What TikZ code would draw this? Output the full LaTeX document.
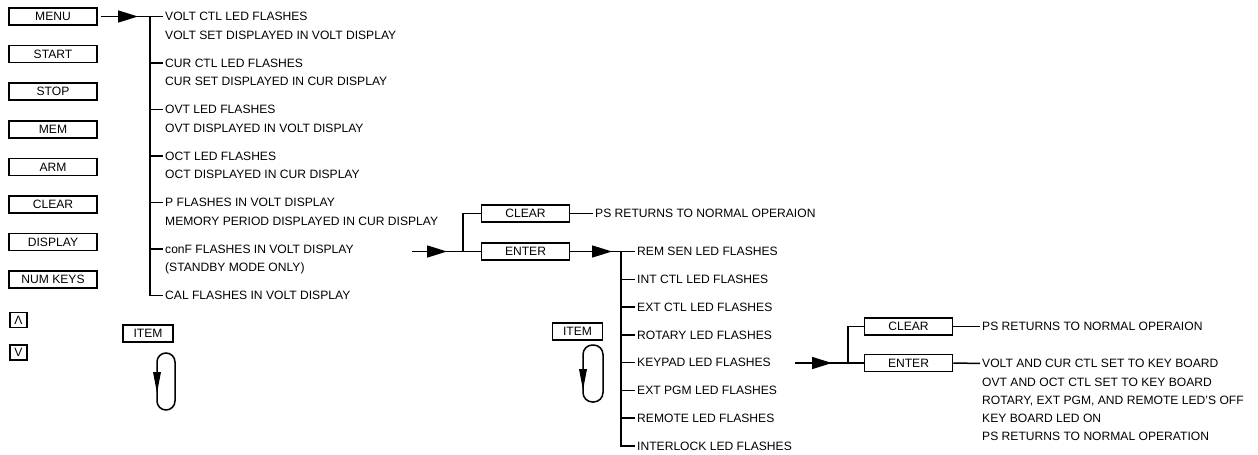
\documentclass[tikz,border=0pt]{standalone}
\usepackage{fontspec}
\setmainfont{Liberation Sans}
\usetikzlibrary{arrows.meta,decorations.markings}
\begin{document}
\begin{tikzpicture}[x=1pt,y=-1pt,
  every node/.style={font=\fontsize{12.1}{14}\selectfont},
  conn/.style={line width=1.5pt},
  key/.style={draw,line width=1.5pt,minimum width=88pt,minimum height=17pt,inner sep=0pt},
  ikey/.style={draw,line width=1.5pt,minimum width=50pt,minimum height=17pt,inner sep=0pt},
  skey/.style={draw,line width=1.5pt,minimum width=17pt,minimum height=15pt,inner sep=0pt},
  txt/.style={anchor=west,inner sep=0pt,text height=8.7pt,text depth=0pt},
  midarrow/.style={postaction={decorate},decoration={markings,mark=at position #1 with {\arrow{Triangle[length=20pt,width=12pt]}}}}
]
\useasboundingbox (0,0) rectangle (1258,455);

% left column of keys
\node[key] (kmenu) at (53,16.5) {MENU};
\node[key] (kstart) at (53,54.1) {START};
\node[key] (kstop) at (53,91.7) {STOP};
\node[key] (kmem) at (53,129.3) {MEM};
\node[key] (karm) at (53,166.9) {ARM};
\node[key] (kclear) at (53,204.5) {CLEAR};
\node[key] (kdisp) at (53,242.1) {DISPLAY};
\node[key] (knum) at (53,279.7) {NUM KEYS};
\node[skey] (kup) at (18.5,320) {Λ};
\node[skey] (kdown) at (18.5,352.5) {V};

% menu items
\node[txt] (m1) at (165,16.5) {VOLT CTL LED FLASHES};
\node[txt] (m1b) at (165,35) {VOLT SET DISPLAYED IN VOLT DISPLAY};
\node[txt] (m2) at (165,63) {CUR CTL LED FLASHES};
\node[txt] (m2b) at (165,81.5) {CUR SET DISPLAYED IN CUR DISPLAY};
\node[txt] (m3) at (165,109.5) {OVT LED FLASHES};
\node[txt] (m3b) at (165,128) {OVT DISPLAYED IN VOLT DISPLAY};
\node[txt] (m4) at (165,156) {OCT LED FLASHES};
\node[txt] (m4b) at (165,174.5) {OCT DISPLAYED IN CUR DISPLAY};
\node[txt] (m5) at (165,202.5) {P FLASHES IN VOLT DISPLAY};
\node[txt] (m5b) at (165,221) {MEMORY PERIOD DISPLAYED IN CUR DISPLAY};
\node[txt] (m6) at (165,249) {conF FLASHES IN VOLT DISPLAY};
\node[txt] (m6b) at (165,267.5) {(STANDBY MODE ONLY)};
\node[txt] (m7) at (165,295.5) {CAL FLASHES IN VOLT DISPLAY};

\coordinate (j0) at (150,16.5);
\draw[conn,midarrow=-12pt,shorten <=3pt] (kmenu.east) -- (j0);
\draw[conn] (j0) |- ([xshift=-2pt]m7.west);
\foreach \m in {m1,m2,m3,m4,m5,m6}
  \draw[conn] (\m.west -| j0) -- ([xshift=-2pt]\m.west);

% ITEM loop 1
\node[ikey] (item1) at (148,333.5) {ITEM};
\draw[conn,rounded corners=9pt] (157,353) rectangle (175,410);
\fill (157,393) -- (153,372) -- (161,372) -- cycle;

% conF submenu
\coordinate (a1s) at (412,251.5);
\coordinate (j1) at (463,251.5);
\node[key] (clr1) at (525.5,213.5) {CLEAR};
\node[key] (ent1) at (525.5,251.5) {ENTER};
\node[txt] (ps1) at (595,213.5) {PS RETURNS TO NORMAL OPERAION};
\draw[conn,midarrow=-16pt] (a1s) -- (j1);
\draw[conn] (j1) -- (ent1.west);
\draw[conn] (j1) |- (clr1.west);
\draw[conn,shorten >=2pt] (clr1.east) -- (ps1.west);

% ENTER items
\node[txt] (e1) at (637,251.5) {REM SEN LED FLASHES};
\node[txt] (e2) at (637,279.25) {INT CTL LED FLASHES};
\node[txt] (e3) at (637,307) {EXT CTL LED FLASHES};
\node[txt] (e4) at (637,334.75) {ROTARY LED FLASHES};
\node[txt] (e5) at (637,362.5) {KEYPAD LED FLASHES};
\node[txt] (e6) at (637,390.25) {EXT PGM LED FLASHES};
\node[txt] (e7) at (637,418) {REMOTE LED FLASHES};
\node[txt] (e8) at (637,445.75) {INTERLOCK LED FLASHES};
\coordinate (j2) at (621,251.5);
\draw[conn,midarrow=-9pt] (ent1.east) -- (j2);
\draw[conn] (j2) |- ([xshift=-2pt]e8.west);
\foreach \m in {e1,e2,e3,e4,e5,e6,e7}
  \draw[conn] (\m.west -| j2) -- ([xshift=-2pt]\m.west);

% ITEM loop 2
\node[ikey] (item2) at (577.5,331.5) {ITEM};
\draw[conn,rounded corners=9.5pt] (583,345) rectangle (603,402);
\fill (583,390) -- (579,369) -- (587,369) -- cycle;

% KEYPAD submenu
\coordinate (a2s) at (795,363);
\coordinate (j3) at (848,363);
\node[key] (clr2) at (908.5,326.5) {CLEAR};
\node[key] (ent2) at (908.5,363) {ENTER};
\node[txt] (ps2) at (982,326.5) {PS RETURNS TO NORMAL OPERAION};
\node[txt] (f1) at (982,363.5) {VOLT AND CUR CTL SET TO KEY BOARD};
\node[txt] (f2) at (982,381.7) {OVT AND OCT CTL SET TO KEY BOARD};
\node[txt] (f3) at (982,399.9) {ROTARY, EXT PGM, AND REMOTE LED'S OFF};
\node[txt] (f4) at (982,418.1) {KEY BOARD LED ON};
\node[txt] (f5) at (982,436.3) {PS RETURNS TO NORMAL OPERATION};
\draw[conn,midarrow=-16pt] (a2s) -- (j3);
\draw[conn] (j3) -- (ent2.west);
\draw[conn] (j3) |- (clr2.west);
\draw[conn,shorten >=2pt] (clr2.east) -- (ps2.west);
\draw[conn,shorten >=2pt] (ent2.east) -- (f1.west);
\end{tikzpicture}
\end{document}
